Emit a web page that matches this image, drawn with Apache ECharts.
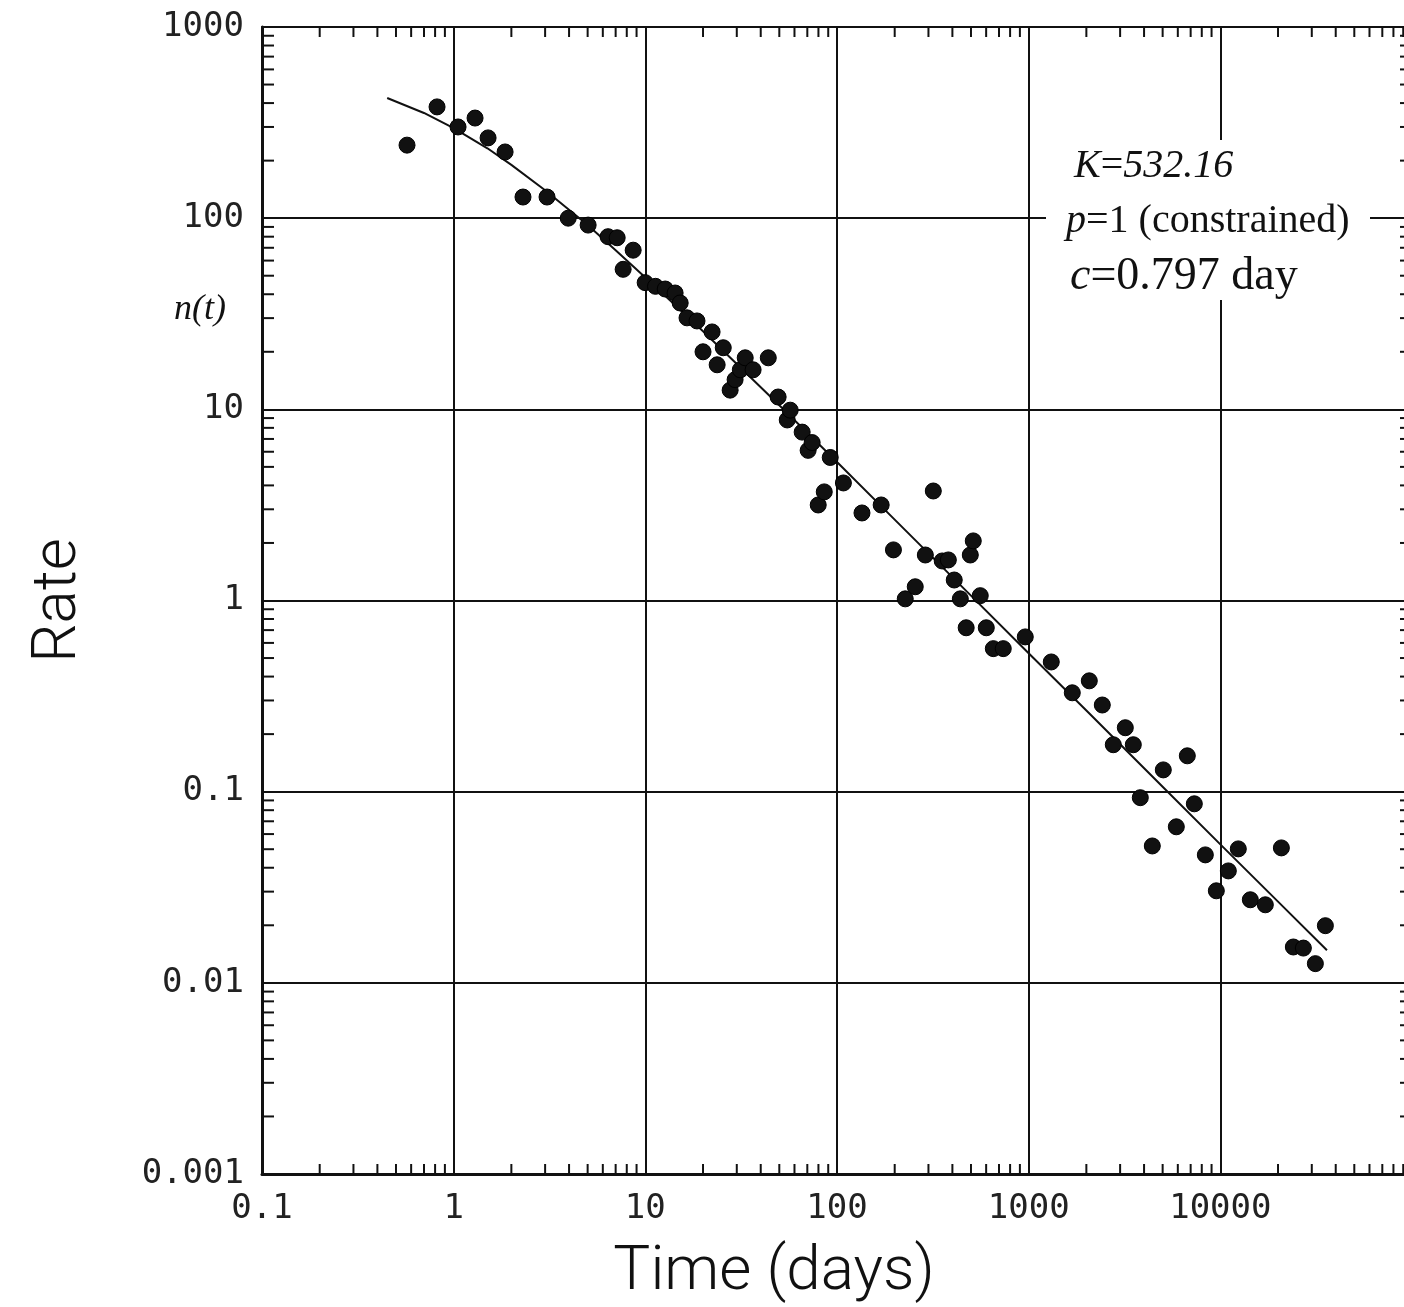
<!DOCTYPE html>
<html>
<head>
<meta charset="utf-8">
<script src="https://cdn.jsdelivr.net/npm/echarts@6/dist/echarts.min.js"></script>
<style>html,body{margin:0;padding:0;background:#fff;}#c{width:1404px;height:1307px;}</style>
</head>
<body>
<div id="c"></div>
<script>
// ---- Data ----
const xTickLabels = ['0.1', '1', '10', '100', '1000', '10000', ''];
const yTickLabels = ['0.001', '0.01', '0.1', '1', '10', '100', '1000'];

const obsTime = [0.571, 0.819, 1.054, 1.293, 1.512, 1.855, 2.30, 3.07, 3.96, 5.03,
  6.39, 7.13, 7.66, 8.64, 9.98, 11.3, 12.7, 14.3, 15.2, 16.5,
  18.6, 20.0, 22.3, 23.7, 25.5, 27.7, 29.4, 31.3, 33.2, 36.5,
  43.8, 49.3, 55.0, 57.0, 65.8, 70.7, 74.2, 92.2, 79.8, 85.8,
  108, 135, 170, 318, 197, 227, 256, 289, 354, 381,
  409, 440, 472, 496, 514, 559, 601, 654, 737, 960,
  1312, 1689, 2072, 2422, 2764, 3193, 3515, 3823, 4417, 5040,
  5893, 6726, 7317, 8352, 9531, 11010, 12410, 14340, 17170, 20820,
  24040, 27120, 31320, 35320];
const obsRate = [241, 382, 300, 334, 263, 222, 129, 129, 100, 92,
  80, 79, 54, 68, 46, 44, 42.6, 40.6, 36, 30.1,
  29, 20, 25.4, 17.1, 21, 12.6, 14.3, 16.1, 18.6, 16.1,
  18.6, 11.6, 8.8, 9.9, 7.6, 6.1, 6.7, 5.6, 3.16, 3.7,
  4.12, 2.87, 3.16, 3.74, 1.84, 1.02, 1.18, 1.73, 1.61, 1.63,
  1.28, 1.02, 0.72, 1.73, 2.05, 1.06, 0.72, 0.56, 0.56, 0.645,
  0.477, 0.329, 0.38, 0.284, 0.176, 0.216, 0.176, 0.093, 0.052, 0.13,
  0.0655, 0.154, 0.0864, 0.0467, 0.0303, 0.0385, 0.0502, 0.0272, 0.0256, 0.0508,
  0.0154, 0.0152, 0.0126, 0.0199];

const fitTime = [0.45, 0.7, 1, 1.5, 2, 3, 5, 7, 10, 20, 50, 100, 200, 500, 1000, 2000, 5000, 10000, 20000, 36000];
const fitRate = [425, 355, 296, 232, 190, 140, 92, 68, 49, 25.6, 10.5, 5.3, 2.65, 1.06, 0.53, 0.266, 0.106, 0.053, 0.0266, 0.0148];

// ---- Build options ----
const obsData = obsTime.map((t, i) => [t, obsRate[i]]);
const fitData = fitTime.map((t, i) => [t, fitRate[i]]);

const xMinor = [];
for (let d = -1; d < 5; d++) for (let k = 2; k <= 9; k++) xMinor.push([k * Math.pow(10, d), 1]);
const yMinor = [];
for (let d = -3; d < 3; d++) for (let k = 2; k <= 9; k++) yMinor.push([1, k * Math.pow(10, d)]);

const X_MIN = 0.1, X_MAX = 100000, Y_MIN = 0.001, Y_MAX = 1000;
const ink = '#111';
const tickFont = {fontFamily: 'DejaVu Sans Mono', fontSize: 34, color: '#222'};

const chart = echarts.init(document.getElementById('c'), null, {renderer: 'canvas'});
chart.setOption({
  backgroundColor: '#fff',
  animation: false,
  grid: {left: 262, top: 27, width: 1150, height: 1147, containLabel: false, outerBoundsMode: 'none'},
  xAxis: [{
    type: 'log', logBase: 10, min: X_MIN, max: X_MAX, position: 'bottom',
    name: 'Time (days)', nameLocation: 'middle', nameGap: 68,
    nameTextStyle: {fontFamily: 'Roboto', fontWeight: 300, fontSize: 62, color: ink, padding: [0, 126, 0, 0]},
    axisLine: {lineStyle: {color: ink, width: 3}},
    axisTick: {show: false},
    axisLabel: Object.assign({margin: 18, formatter: (v, i) => xTickLabels[i] || ''}, tickFont),
    splitLine: {show: true, lineStyle: {color: ink, width: 2}}
  }, {
    type: 'log', logBase: 10, min: X_MIN, max: X_MAX, position: 'top',
    axisLine: {lineStyle: {color: ink, width: 2}},
    axisTick: {show: false}, axisLabel: {show: false}, splitLine: {show: false}
  }],
  yAxis: {
    type: 'log', logBase: 10, min: Y_MIN, max: Y_MAX,
    name: 'Rate', nameLocation: 'middle', nameGap: 172, nameRotate: 90,
    nameTextStyle: {fontFamily: 'Roboto', fontWeight: 300, fontSize: 62, color: ink},
    axisLine: {lineStyle: {color: ink, width: 3}},
    axisTick: {show: false},
    axisLabel: Object.assign({margin: 18, formatter: (v, i) => yTickLabels[i] || ''}, tickFont),
    splitLine: {show: true, lineStyle: {color: ink, width: 2}}
  },
  graphic: [
    {type: 'rect', shape: {x: 1046, y: 140, width: 324, height: 160}, style: {fill: '#fff'}, z: 100},
    {type: 'text', x: 1074, y: 166, z: 101, style: {
      text: '{i|K}{n|=}{i|532.16}', verticalAlign: 'middle',
      rich: {i: {fontFamily: 'Liberation Serif', fontStyle: 'italic', fontSize: 40, fill: ink},
             n: {fontFamily: 'Liberation Serif', fontSize: 40, fill: ink}}}},
    {type: 'text', x: 1066, y: 221, z: 101, style: {
      text: '{i|p}{n|=1 (constrained)}', verticalAlign: 'middle',
      rich: {i: {fontFamily: 'Liberation Serif', fontStyle: 'italic', fontSize: 40, fill: ink},
             n: {fontFamily: 'Liberation Serif', fontSize: 40, fill: ink}}}},
    {type: 'text', x: 1070, y: 277, z: 101, style: {
      text: '{i|c}{n|=0.797 day}', verticalAlign: 'middle',
      rich: {i: {fontFamily: 'Liberation Serif', fontStyle: 'italic', fontSize: 46, fill: ink},
             n: {fontFamily: 'Liberation Serif', fontSize: 46, fill: ink}}}},
    {type: 'text', x: 200, y: 310, z: 101, style: {
      text: 'n(t)', align: 'center', verticalAlign: 'middle',
      fontFamily: 'Liberation Serif', fontStyle: 'italic', fontSize: 36, fill: ink}}
  ],
  series: [
    {
      type: 'custom', coordinateSystem: 'cartesian2d', silent: true, clip: false, z: 3,
      data: xMinor,
      renderItem: (params, api) => {
        const v = api.value(0);
        const b = api.coord([v, Y_MIN]);
        const t = api.coord([v, Y_MAX]);
        const s = {stroke: ink, lineWidth: 2};
        return {type: 'group', children: [
          {type: 'line', shape: {x1: b[0], y1: b[1], x2: b[0], y2: b[1] - 10}, style: s},
          {type: 'line', shape: {x1: t[0], y1: t[1], x2: t[0], y2: t[1] + 10}, style: s}
        ]};
      }
    },
    {
      type: 'custom', coordinateSystem: 'cartesian2d', silent: true, clip: false, z: 3,
      data: yMinor,
      renderItem: (params, api) => {
        const v = api.value(1);
        const l = api.coord([X_MIN, v]);
        const r = api.coord([X_MAX, v]);
        const s = {stroke: ink, lineWidth: 2};
        return {type: 'group', children: [
          {type: 'line', shape: {x1: l[0], y1: l[1], x2: l[0] + 12, y2: l[1]}, style: s},
          {type: 'line', shape: {x1: r[0], y1: r[1], x2: r[0] - 12, y2: r[1]}, style: s}
        ]};
      }
    },
    {
      type: 'line', data: fitData, showSymbol: false, symbol: 'none', smooth: false, z: 4,
      lineStyle: {color: ink, width: 2}
    },
    {
      type: 'scatter', data: obsData, symbol: 'circle', symbolSize: 16, z: 5,
      itemStyle: {color: '#111', opacity: 1, borderColor: '#000', borderWidth: 1}
    }
  ]
});
</script>
</body>
</html>
